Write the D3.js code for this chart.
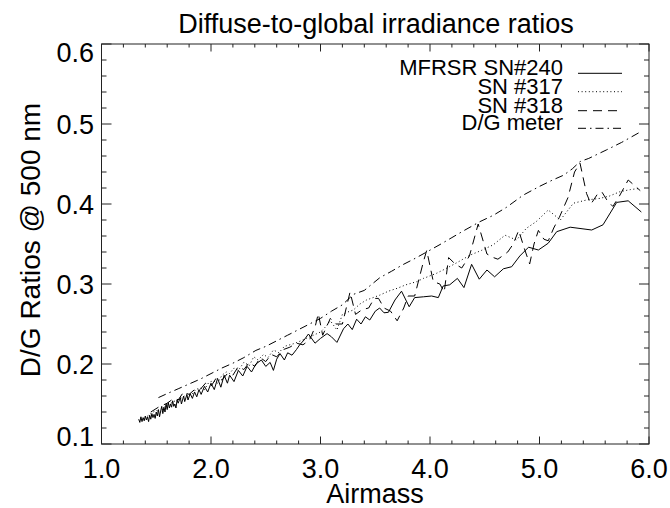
<!DOCTYPE html>
<html><head><meta charset="utf-8">
<script src="https://cdn.jsdelivr.net/npm/d3@7"></script>
<style>body{margin:0;background:#fff;} svg{display:block;}</style>
</head><body>
<svg id="c" width="670" height="508"></svg>
<script>
const titleText = "Diffuse-to-global irradiance ratios";
const xTitle = "Airmass";
const yTitle = "D/G Ratios @ 500 nm";
const xTicks = [1.0, 2.0, 3.0, 4.0, 5.0, 6.0];
const yTicks = [0.1, 0.2, 0.3, 0.4, 0.5, 0.6];
const seriesNames = ["MFRSR SN#240", "SN #317", "SN #318", "D/G meter"];

// MFRSR SN#240 (solid)
const sn240Airmass = [1.34,1.35,1.36,1.37,1.38,1.39,1.40,1.41,1.42,1.43,1.44,1.45,1.46,1.47,1.48,1.49,1.50,1.51,1.52,1.53,1.54,1.55,1.56,1.57,1.58,1.59,1.60,1.61,1.62,1.63,1.64,1.65,1.66,1.67,1.68,1.69,1.70,1.72,1.73,1.75,1.76,1.78,1.79,1.81,1.83,1.85,1.87,1.89,1.91,1.94,1.97,2.00,2.03,2.06,2.09,2.12,2.15,2.17,2.21,2.25,2.29,2.33,2.37,2.41,2.46,2.50,2.54,2.57,2.60,2.63,2.67,2.70,2.74,2.78,2.81,2.85,2.89,2.95,3.00,3.06,3.10,3.15,3.21,3.25,3.29,3.33,3.37,3.41,3.45,3.50,3.54,3.58,3.62,3.68,3.74,3.81,3.86,3.94,4.015,4.076,4.12,4.18,4.25,4.31,4.38,4.45,4.52,4.59,4.67,4.746,4.82,4.90,4.99,5.08,5.157,5.28,5.477,5.58,5.705,5.81,5.93];
const sn240Ratio = [0.131,0.127,0.134,0.128,0.133,0.129,0.135,0.130,0.134,0.128,0.136,0.131,0.138,0.133,0.137,0.132,0.140,0.135,0.143,0.134,0.141,0.147,0.138,0.146,0.140,0.150,0.143,0.152,0.145,0.150,0.146,0.154,0.147,0.150,0.145,0.155,0.151,0.158,0.150,0.160,0.153,0.162,0.155,0.163,0.157,0.165,0.159,0.168,0.162,0.172,0.165,0.176,0.168,0.182,0.171,0.186,0.176,0.186,0.178,0.192,0.185,0.197,0.190,0.200,0.205,0.197,0.202,0.192,0.206,0.213,0.205,0.214,0.211,0.218,0.224,0.230,0.2375,0.226,0.232,0.238,0.234,0.227,0.244,0.250,0.243,0.256,0.250,0.259,0.255,0.266,0.270,0.264,0.2646,0.280,0.291,0.2716,0.283,0.284,0.285,0.283,0.2975,0.299,0.307,0.2955,0.3246,0.306,0.3175,0.309,0.319,0.3216,0.335,0.346,0.3425,0.351,0.3654,0.371,0.3675,0.374,0.402,0.404,0.390];

// SN #317 (dotted)
const sn317Airmass = [1.42,1.46,1.50,1.54,1.58,1.62,1.66,1.70,1.74,1.78,1.82,1.86,1.90,1.94,1.98,2.02,2.06,2.10,2.14,2.17,2.21,2.25,2.30,2.35,2.39,2.43,2.48,2.52,2.57,2.62,2.67,2.72,2.77,2.82,2.87,2.92,2.96,3.00,3.05,3.09,3.15,3.20,3.25,3.30,3.36,3.42,3.48,3.54,3.62,3.70,3.78,3.88,3.94,4.06,4.15,4.25,4.365,4.47,4.578,4.685,4.79,4.88,4.97,5.08,5.19,5.31,5.43,5.55,5.64,5.735,5.83,5.92];
const sn317Ratio = [0.135,0.139,0.142,0.140,0.147,0.150,0.153,0.156,0.158,0.163,0.161,0.168,0.170,0.168,0.177,0.179,0.176,0.186,0.190,0.188,0.195,0.192,0.202,0.198,0.209,0.205,0.212,0.208,0.2175,0.214,0.222,0.224,0.226,0.229,0.232,0.235,0.2375,0.240,0.247,0.254,0.2425,0.262,0.265,0.2675,0.275,0.280,0.283,0.286,0.291,0.2946,0.299,0.303,0.307,0.3134,0.3196,0.327,0.336,0.342,0.349,0.361,0.355,0.3696,0.378,0.3925,0.380,0.401,0.405,0.407,0.410,0.4154,0.418,0.4196];

// SN #318 (dashed)
const sn318Airmass = [1.45,1.52,1.60,1.66,1.70,1.75,1.80,1.85,1.90,1.95,2.00,2.05,2.10,2.15,2.20,2.25,2.30,2.35,2.40,2.45,2.50,2.55,2.60,2.66,2.72,2.78,2.84,2.90,2.95,2.98,3.02,3.09,3.14,3.20,3.27,3.32,3.38,3.44,3.49,3.53,3.58,3.64,3.70,3.76,3.80,3.86,3.94,3.97,4.03,4.09,4.13,4.17,4.23,4.29,4.36,4.44,4.52,4.58,4.62,4.71,4.76,4.81,4.86,4.91,4.95,4.99,5.04,5.08,5.13,5.18,5.26,5.32,5.37,5.43,5.47,5.53,5.57,5.62,5.67,5.73,5.81,5.86,5.92];
const sn318Ratio = [0.140,0.146,0.151,0.157,0.155,0.165,0.162,0.168,0.168,0.176,0.172,0.183,0.180,0.188,0.186,0.197,0.193,0.202,0.197,0.208,0.203,0.212,0.209,0.218,0.221,0.226,0.224,0.230,0.246,0.263,0.236,0.257,0.250,0.250,0.290,0.262,0.268,0.270,0.282,0.282,0.270,0.266,0.254,0.270,0.285,0.285,0.328,0.342,0.303,0.300,0.290,0.333,0.325,0.320,0.335,0.375,0.3375,0.333,0.331,0.340,0.350,0.367,0.345,0.325,0.350,0.367,0.356,0.354,0.370,0.383,0.408,0.440,0.451,0.413,0.400,0.4125,0.415,0.404,0.397,0.410,0.430,0.424,0.4167];

// D/G meter (dash-dot)
const dgAirmass = [1.52,1.60,1.70,1.80,1.90,2.00,2.10,2.20,2.30,2.41,2.50,2.60,2.70,2.80,2.90,3.00,3.10,3.20,3.30,3.40,3.543,3.65,3.75,3.85,3.97,4.10,4.20,4.30,4.457,4.58,4.70,4.85,5.00,5.12,5.22,5.30,5.37,5.45,5.61,5.75,5.92];
const dgRatio = [0.158,0.163,0.169,0.175,0.181,0.188,0.195,0.201,0.208,0.217,0.222,0.229,0.236,0.243,0.250,0.257,0.266,0.274,0.287,0.292,0.308,0.316,0.324,0.331,0.340,0.350,0.358,0.366,0.378,0.386,0.396,0.411,0.422,0.430,0.436,0.444,0.453,0.457,0.4675,0.477,0.490];

const FONT = "'Liberation Sans', Arial, Helvetica, sans-serif";
const svg = d3.select("#c");
const L = 101.5, R = 649, T = 44, B = 444;
const x = d3.scaleLinear().domain([1, 6]).range([L, R]);
const y = d3.scaleLinear().domain([0.1, 0.6]).range([B, T]);

const styles = [
  {dash: null},
  {dash: "1,2.6"},
  {dash: "9,6"},
  {dash: "8,4,1.5,4"}
];
const series = [
  {name: seriesNames[0], xs: sn240Airmass, ys: sn240Ratio, st: styles[0]},
  {name: seriesNames[1], xs: sn317Airmass, ys: sn317Ratio, st: styles[1]},
  {name: seriesNames[2], xs: sn318Airmass, ys: sn318Ratio, st: styles[2]},
  {name: seriesNames[3], xs: dgAirmass, ys: dgRatio, st: styles[3]}
];

const line = d3.line().x(d => x(d[0])).y(d => y(d[1]));
const g = svg.append("g");
series.forEach(s => {
  const pts = s.xs.map((v, i) => [v, s.ys[i]]);
  g.append("path").datum(pts).attr("d", line)
    .attr("fill", "none").attr("stroke", "#000").attr("stroke-width", 1)
    .attr("stroke-dasharray", s.st.dash);
});

// frame
const axC = "#222";
svg.append("rect").attr("x", L).attr("y", T).attr("width", R - L).attr("height", B - T)
  .attr("fill", "none").attr("stroke", axC).attr("stroke-width", 1);

// x axis ticks (bottom & top)
const xMinor = d3.range(1, 6.0001, 0.2);
xMinor.forEach(v => {
  const major = Math.abs(v - Math.round(v)) < 1e-6;
  const len = major ? 7.5 : 3.5;
  svg.append("line").attr("x1", x(v)).attr("x2", x(v)).attr("y1", B).attr("y2", B - len).attr("stroke", axC);
  svg.append("line").attr("x1", x(v)).attr("x2", x(v)).attr("y1", T).attr("y2", T + len).attr("stroke", axC);
});
const yMinor = d3.range(0.1, 0.6001, 0.02);
yMinor.forEach(v => {
  const major = Math.abs(v * 10 - Math.round(v * 10)) < 1e-6;
  const len = major ? 10 : 5;
  svg.append("line").attr("y1", y(v)).attr("y2", y(v)).attr("x1", L).attr("x2", L + len).attr("stroke", axC);
  svg.append("line").attr("y1", y(v)).attr("y2", y(v)).attr("x1", R).attr("x2", R - len).attr("stroke", axC);
});

// tick labels
const fmt = d3.format(".1f");
svg.selectAll(".xt").data(xTicks).enter().append("text")
  .attr("x", d => x(d)).attr("y", 478).attr("text-anchor", "middle")
  .attr("font-family", FONT).attr("font-size", 27).text(d => fmt(d));
svg.selectAll(".yt").data(yTicks).enter().append("text")
  .attr("x", 94).attr("y", (d, i) => y(d) + (i === 0 ? -8 : i === yTicks.length - 1 ? 8 : 0))
  .attr("dy", "0.36em").attr("text-anchor", "end")
  .attr("font-family", FONT).attr("font-size", 27).text(d => fmt(d));

// titles
svg.append("text").attr("x", 376).attr("y", 33).attr("text-anchor", "middle")
  .attr("font-family", FONT).attr("font-size", 27).text(titleText);
svg.append("text").attr("x", 375).attr("y", 503).attr("text-anchor", "middle")
  .attr("font-family", FONT).attr("font-size", 27).text(xTitle);
svg.append("text").attr("transform", "translate(40,240) rotate(-90)").attr("text-anchor", "middle")
  .attr("font-family", FONT).attr("font-size", 28).text(yTitle);

// legend
const legY = [73.3, 91.7, 110.7, 128.3];
series.forEach((s, i) => {
  svg.append("text").attr("x", 563).attr("y", legY[i] + 1.8).attr("text-anchor", "end")
    .attr("font-family", FONT).attr("font-size", 22).text(s.name);
  svg.append("line").attr("x1", 578).attr("x2", 622).attr("y1", legY[i]).attr("y2", legY[i])
    .attr("stroke", "#000").attr("stroke-width", 1).attr("stroke-dasharray", s.st.dash);
});
</script>
</body></html>
